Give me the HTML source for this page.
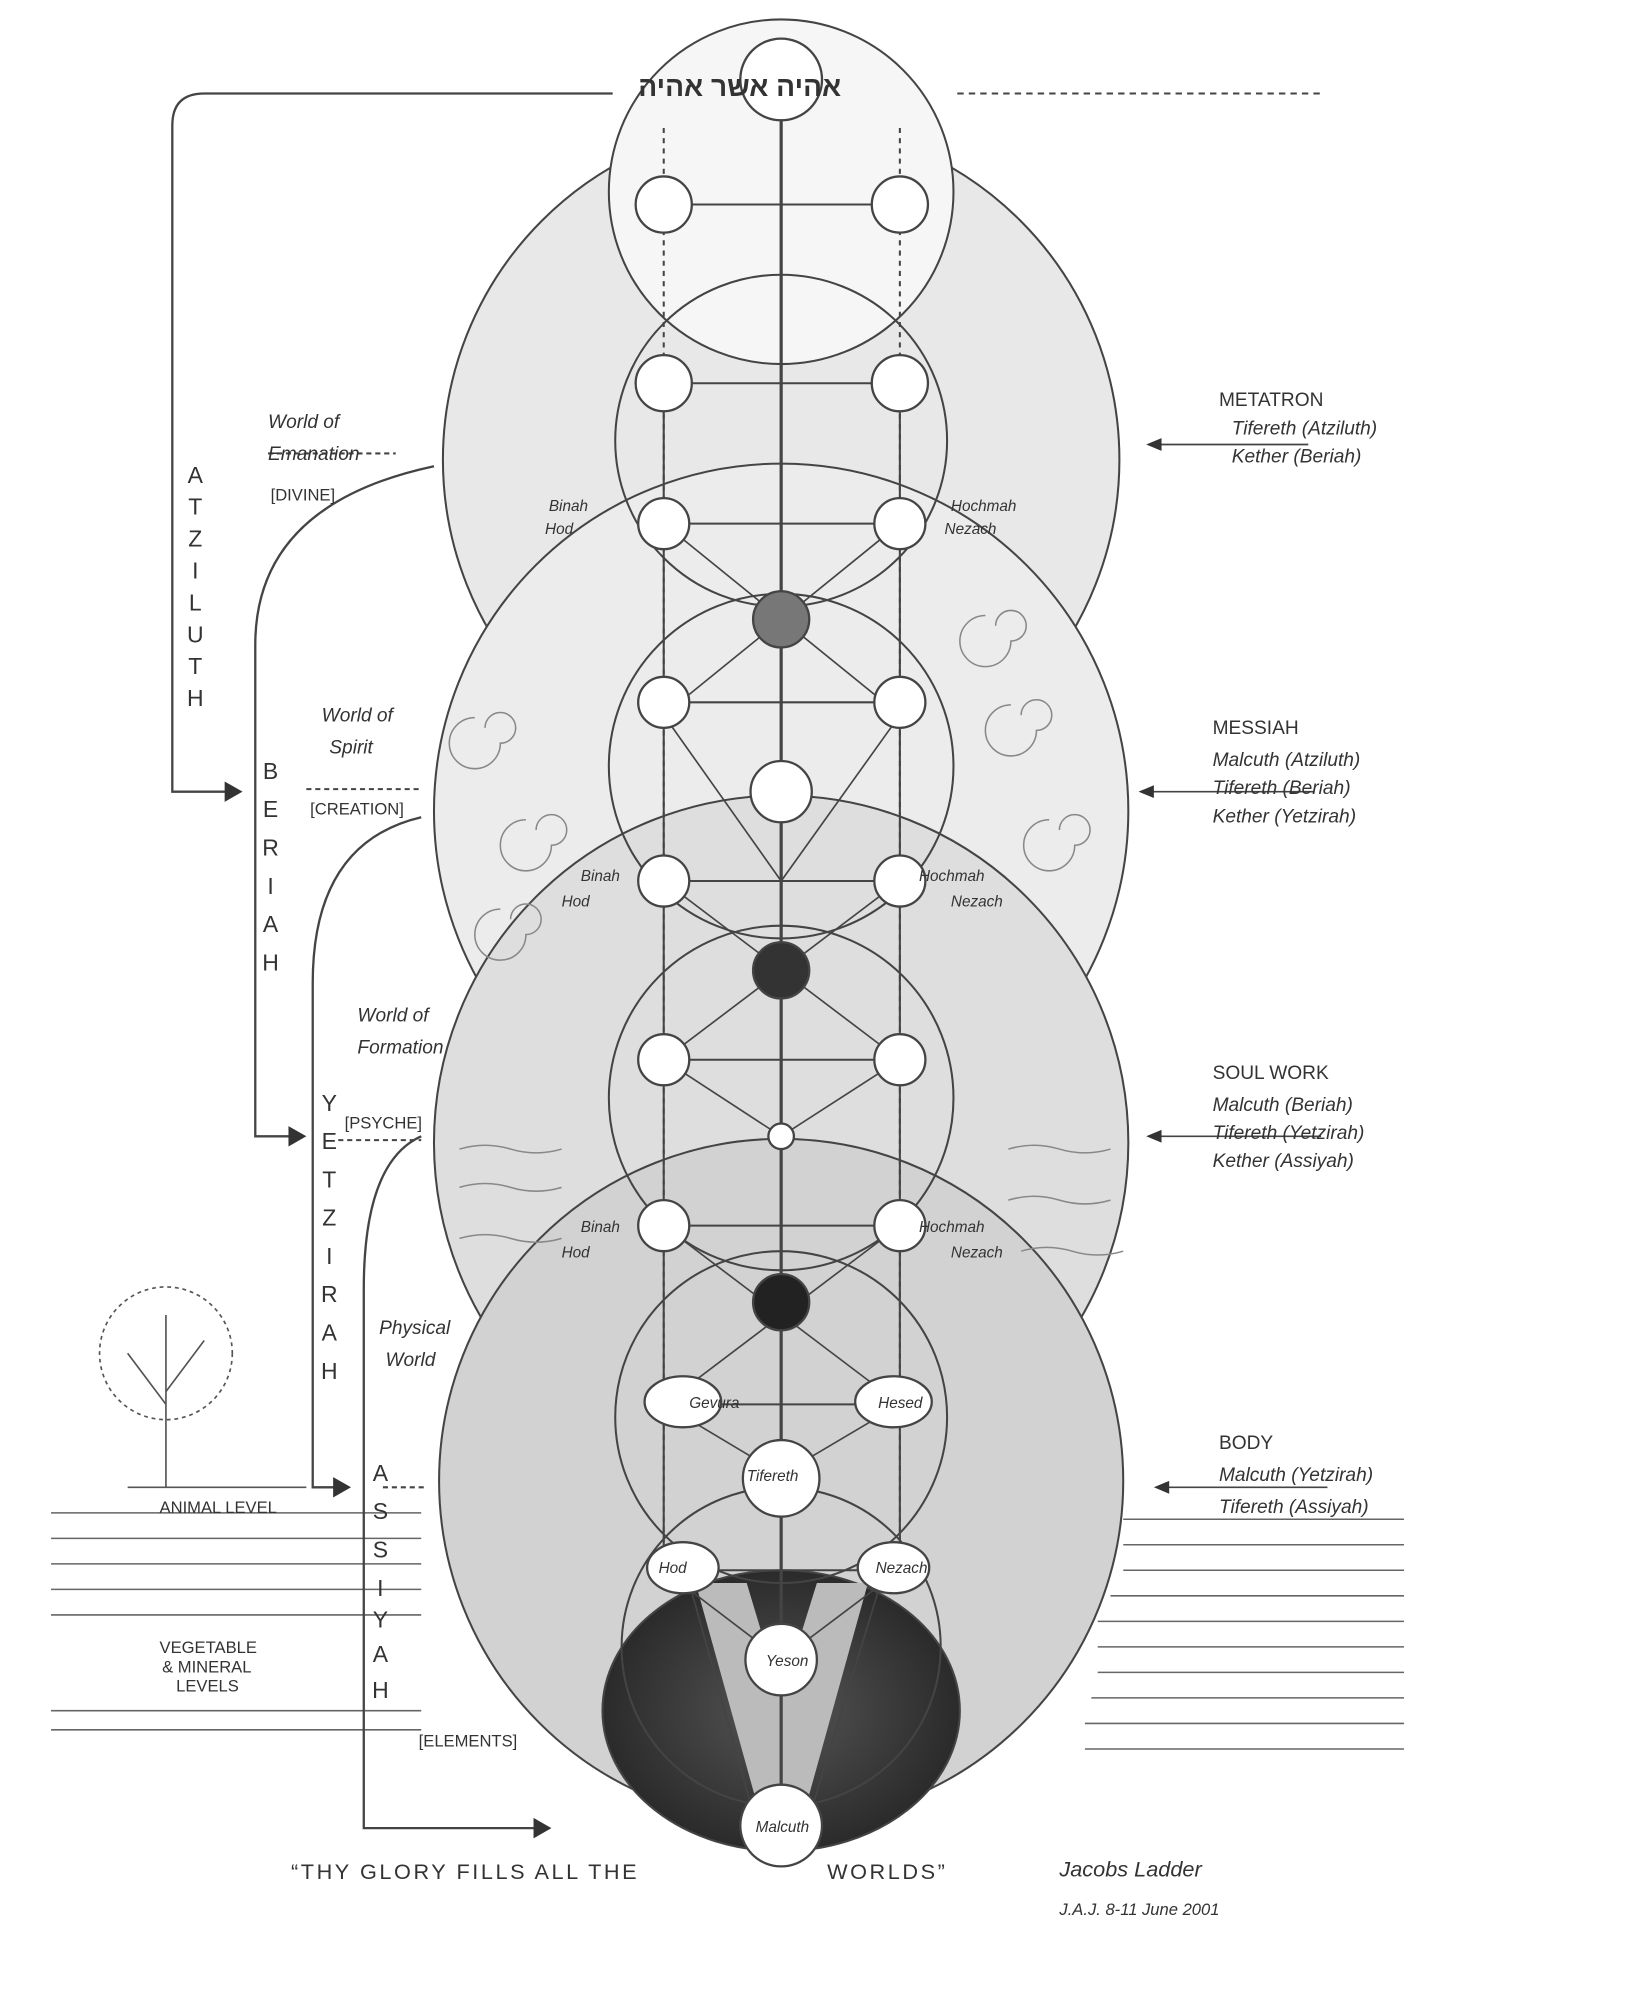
<!DOCTYPE html>
<html><head><meta charset="utf-8"><style>
html,body{margin:0;padding:0;background:#fff;}
svg{display:block}
text{font-family:"Liberation Sans",sans-serif;fill:#333}
.h{font-style:italic;font-size:15px}
</style></head><body>
<svg width="1644" height="2002" viewBox="0 0 1288 1568" xmlns="http://www.w3.org/2000/svg">
<rect width="1288" height="1568" fill="#fff"/>
<defs>
<radialGradient id="dk" cx="50%" cy="50%" r="60%"><stop offset="0" stop-color="#555"/><stop offset="1" stop-color="#222"/></radialGradient>
</defs>
<g fill="none" stroke="#444" stroke-width="1.6">
<circle cx="612" cy="360" r="265" fill="#e8e8e8"/>
<circle cx="612" cy="635" r="272" fill="#ececec"/>
<circle cx="612" cy="895" r="272" fill="#dedede"/>
<circle cx="612" cy="1160" r="268" fill="#d2d2d2"/>
<ellipse cx="612" cy="1340" rx="140" ry="110" fill="url(#dk)"/>
<path d="M545 1240 L595 1420 L630 1420 L680 1240 L640 1240 L612 1330 L585 1240 Z" fill="#bbb" stroke="none"/>
<circle cx="612" cy="150" r="135" fill="#f6f6f6"/>
<circle cx="612" cy="345" r="130"/>
<circle cx="612" cy="600" r="135"/>
<circle cx="612" cy="860" r="135"/>
<circle cx="612" cy="1110" r="130"/>
<circle cx="612" cy="1290" r="125"/>
<line x1="520" y1="100" x2="520" y2="1230" stroke-dasharray="4 4"/>
<line x1="705" y1="100" x2="705" y2="1230" stroke-dasharray="4 4"/>
<line x1="612" y1="60" x2="612" y2="1420" stroke-width="2.5"/>
<line x1="520" y1="300" x2="520" y2="1240"/>
<line x1="705" y1="300" x2="705" y2="1240"/>
<path d="M520 410 L705 560 M705 410 L520 560 M520 560 L612 690 L705 560 M520 690 L705 830 M705 690 L520 830 M520 830 L612 890 L705 830 M520 960 L705 1100 M705 960 L520 1100 M520 1100 L612 1155 L705 1100 M520 1230 L612 1300 L705 1230 M540 1240 L590 1420 M690 1240 L635 1420" stroke-width="1.3"/>
<path d="M520 410 H705 M520 550 H705 M520 690 H705 M520 830 H705 M520 960 H705 M520 1100 H705 M520 1230 H705 M520 160 H705 M520 300 H705"/>
<g stroke="#888" stroke-width="1.2">
<path d="M380 570 a12 12 0 1 1 12 12 a20 20 0 1 1 -20 -20"/>
<path d="M420 650 a12 12 0 1 1 12 12 a20 20 0 1 1 -20 -20"/>
<path d="M800 560 a12 12 0 1 1 12 12 a20 20 0 1 1 -20 -20"/>
<path d="M830 650 a12 12 0 1 1 12 12 a20 20 0 1 1 -20 -20"/>
<path d="M780 490 a12 12 0 1 1 12 12 a20 20 0 1 1 -20 -20"/>
<path d="M400 720 a12 12 0 1 1 12 12 a20 20 0 1 1 -20 -20"/>
<path d="M360 900 q20 -6 40 0 t40 0 M360 930 q20 -6 40 0 t40 0 M790 900 q20 -6 40 0 t40 0 M790 940 q20 -6 40 0 t40 0 M360 970 q20 -6 40 0 t40 0 M800 980 q20 -6 40 0 t40 0"/>
</g>
<path stroke="#666" stroke-width="1.2" d="M40 1185 H330 M40 1205 H330 M40 1225 H330 M40 1245 H330 M40 1265 H330 M40 1340 H330 M40 1355 H330 M880 1190 H1100 M880 1210 H1100 M880 1230 H1100 M870 1250 H1100 M860 1270 H1100 M860 1290 H1100 M860 1310 H1100 M855 1330 H1100 M850 1350 H1100 M850 1370 H1100"/>
<path d="M480 73 H160 q-25 0 -25 25 V620 H180" stroke-width="1.8"/>
<path d="M750 73 H1035" stroke-dasharray="5 4"/>
<path d="M340 365 q-140 30 -140 140 V890 H232" stroke-width="1.8"/>
<path d="M330 640 q-85 20 -85 130 V1165 H265" stroke-width="1.8"/>
<path d="M330 890 q-45 20 -45 120 V1432 H420" stroke-width="1.8"/>
<path d="M210 355 H310 M240 618 H330 M265 893 H330 M300 1165 H335" stroke-dasharray="4 3"/>
<path d="M1025 348 H905 M1030 620 H898 M1035 890 H905 M1040 1165 H910" stroke-width="1.3"/>
</g>
<g fill="#333">
<polygon points="190,620 176,612 176,628"/>
<polygon points="240,890 226,882 226,898"/>
<polygon points="275,1165 261,1157 261,1173"/>
<polygon points="432,1432 418,1424 418,1440"/>
<polygon points="898,348 910,343 910,353"/>
<polygon points="892,620 904,615 904,625"/>
<polygon points="898,890 910,885 910,895"/>
<polygon points="904,1165 916,1160 916,1170"/>
</g>
<g fill="#fff" stroke="#444" stroke-width="1.8">
<circle cx="612" cy="62" r="32"/>
<circle cx="520" cy="160" r="22"/><circle cx="705" cy="160" r="22"/>
<circle cx="520" cy="300" r="22"/><circle cx="705" cy="300" r="22"/>
<circle cx="520" cy="410" r="20"/><circle cx="705" cy="410" r="20"/>
<circle cx="612" cy="485" r="22" fill="#777"/>
<circle cx="520" cy="550" r="20"/><circle cx="705" cy="550" r="20"/>
<circle cx="612" cy="620" r="24"/>
<circle cx="520" cy="690" r="20"/><circle cx="705" cy="690" r="20"/>
<circle cx="612" cy="760" r="22" fill="#333"/>
<circle cx="520" cy="830" r="20"/><circle cx="705" cy="830" r="20"/>
<circle cx="612" cy="890" r="10"/>
<circle cx="520" cy="960" r="20"/><circle cx="705" cy="960" r="20"/>
<circle cx="612" cy="1020" r="22" fill="#222"/>
<ellipse cx="535" cy="1098" rx="30" ry="20"/><ellipse cx="700" cy="1098" rx="30" ry="20"/>
<circle cx="612" cy="1158" r="30"/>
<ellipse cx="535" cy="1228" rx="28" ry="20"/><ellipse cx="700" cy="1228" rx="28" ry="20"/>
<circle cx="612" cy="1300" r="28"/>
<circle cx="612" cy="1430" r="32"/>
</g>
<g stroke="#555" fill="none" stroke-width="1.3">
<path d="M130 1165 V1080 M130 1100 L100 1060 M130 1090 L160 1050 M130 1080 V1030"/>
<circle cx="130" cy="1060" r="52" stroke-dasharray="3 3"/>
<path d="M100 1165 H240"/>
</g>
<text x="500" y="75" font-family="'Liberation Serif','Noto Serif CJK SC',serif" font-size="22" font-weight="bold" fill="#444">אהיה אשר אהיה</text>
<g class="h">
<text x="210" y="335">World of</text><text x="210" y="360">Emanation</text><text x="212" y="392" font-style="normal" font-size="13">[DIVINE]</text>
<text x="252" y="565">World of</text><text x="258" y="590">Spirit</text><text x="243" y="638" font-style="normal" font-size="13">[CREATION]</text>
<text x="280" y="800">World of</text><text x="280" y="825">Formation</text><text x="270" y="884" font-style="normal" font-size="13">[PSYCHE]</text>
<text x="297" y="1045">Physical</text><text x="302" y="1070">World</text><text x="328" y="1368" font-style="normal" font-size="13">[ELEMENTS]</text>
<text x="585" y="1160" font-size="12">Tifereth</text>
<text x="540" y="1103" font-size="12">Gevura</text><text x="688" y="1103" font-size="12">Hesed</text>
<text x="516" y="1232" font-size="12">Hod</text><text x="686" y="1232" font-size="12">Nezach</text>
<text x="600" y="1305" font-size="12">Yeson</text>
<text x="592" y="1435" font-size="12">Malcuth</text>
<text x="955" y="318" font-style="normal" font-size="15">METATRON</text>
<text x="965" y="340">Tifereth (Atziluth)</text><text x="965" y="362">Kether (Beriah)</text>
<text x="950" y="575" font-style="normal" font-size="15">MESSIAH</text>
<text x="950" y="600">Malcuth (Atziluth)</text><text x="950" y="622">Tifereth (Beriah)</text><text x="950" y="644">Kether (Yetzirah)</text>
<text x="950" y="845" font-style="normal" font-size="15">SOUL WORK</text>
<text x="950" y="870">Malcuth (Beriah)</text><text x="950" y="892">Tifereth (Yetzirah)</text><text x="950" y="914">Kether (Assiyah)</text>
<text x="955" y="1135" font-style="normal" font-size="15">BODY</text>
<text x="955" y="1160">Malcuth (Yetzirah)</text><text x="955" y="1185">Tifereth (Assiyah)</text>
<text x="430" y="400" font-size="12">Binah</text><text x="427" y="418" font-size="12">Hod</text>
<text x="745" y="400" font-size="12">Hochmah</text><text x="740" y="418" font-size="12">Nezach</text>
<text x="455" y="690" font-size="12">Binah</text><text x="440" y="710" font-size="12">Hod</text>
<text x="720" y="690" font-size="12">Hochmah</text><text x="745" y="710" font-size="12">Nezach</text>
<text x="455" y="965" font-size="12">Binah</text><text x="440" y="985" font-size="12">Hod</text>
<text x="720" y="965" font-size="12">Hochmah</text><text x="745" y="985" font-size="12">Nezach</text>
<text x="830" y="1470" font-size="17">Jacobs Ladder</text>
<text x="830" y="1500" font-size="13">J.A.J. 8-11 June 2001</text>
</g>
<g font-size="14" fill="#333">
<text x="125" y="1185" style="font-size:13px">ANIMAL LEVEL</text>
<text x="125" y="1295" style="font-size:13px">VEGETABLE</text>
<text x="127" y="1310" style="font-size:13px">&amp; MINERAL</text>
<text x="138" y="1325" style="font-size:13px">LEVELS</text>
<text x="228" y="1472" style="font-size:17px;letter-spacing:2px">“THY GLORY FILLS ALL THE</text>
<text x="648" y="1472" style="font-size:17px;letter-spacing:2px">WORLDS”</text>
</g>
<g font-size="18" fill="#333" text-anchor="middle">
<text x="153" y="378">A</text><text x="153" y="403">T</text><text x="153" y="428">Z</text><text x="153" y="453">I</text><text x="153" y="478">L</text><text x="153" y="503">U</text><text x="153" y="528">T</text><text x="153" y="553">H</text>
<text x="212" y="610">B</text><text x="212" y="640">E</text><text x="212" y="670">R</text><text x="212" y="700">I</text><text x="212" y="730">A</text><text x="212" y="760">H</text>
<text x="258" y="870">Y</text><text x="258" y="900">E</text><text x="258" y="930">T</text><text x="258" y="960">Z</text><text x="258" y="990">I</text><text x="258" y="1020">R</text><text x="258" y="1050">A</text><text x="258" y="1080">H</text>
<text x="298" y="1160">A</text><text x="298" y="1190">S</text><text x="298" y="1220">S</text><text x="298" y="1250">I</text><text x="298" y="1275">Y</text><text x="298" y="1302">A</text><text x="298" y="1330">H</text>
</g>
</svg>
</body></html>
